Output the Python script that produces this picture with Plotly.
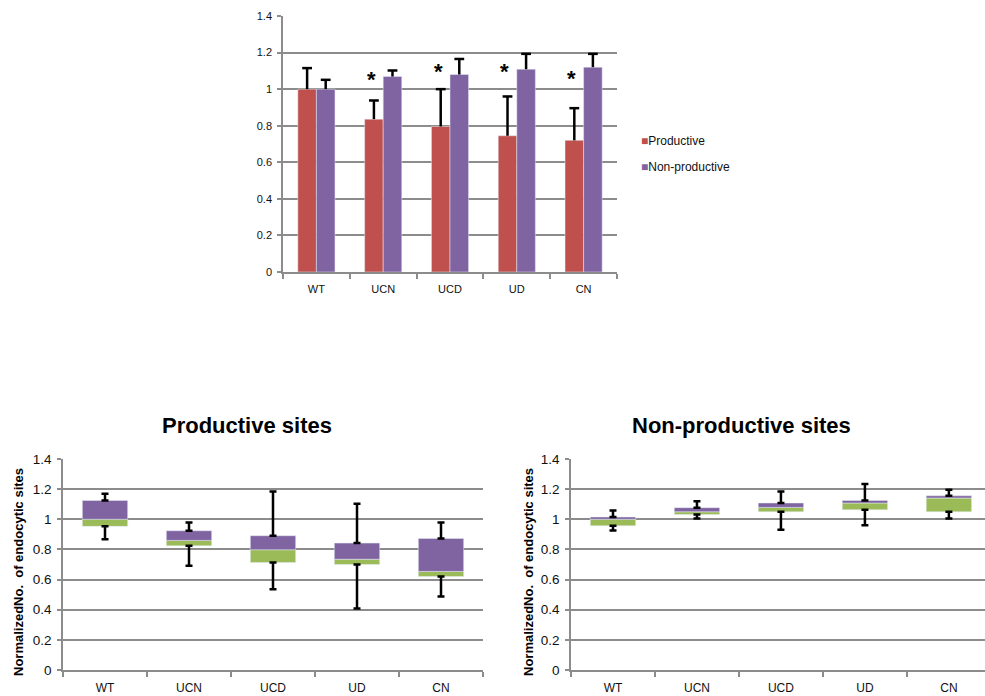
import plotly.graph_objects as go

categories = ["WT", "UCN", "UCD", "UD", "CN"]

# Top chart: normalized mean values with upward error bars
prod_mean = [1.0, 0.836, 0.796, 0.745, 0.72]
prod_err = [0.115, 0.102, 0.204, 0.215, 0.176]
nonprod_mean = [1.0, 1.069, 1.08, 1.109, 1.12]
nonprod_err = [0.051, 0.033, 0.085, 0.084, 0.073]
star_cats = ["UCN", "UCD", "UD", "CN"]
star_y = [1.073, 1.12, 1.12, 1.08]
series_names = ["Productive", "Non-productive"]

# Bottom charts: box low / median / high and whisker min / max
prod_low = [0.953, 0.824, 0.713, 0.70, 0.62]
prod_med = [1.0, 0.86, 0.798, 0.735, 0.654]
prod_high = [1.125, 0.924, 0.891, 0.842, 0.873]
prod_min = [0.868, 0.691, 0.536, 0.408, 0.487]
prod_max = [1.17, 0.979, 1.185, 1.103, 0.979]

np_low = [0.957, 1.032, 1.05, 1.063, 1.05]
np_med = [1.0, 1.05, 1.079, 1.108, 1.141]
np_high = [1.015, 1.077, 1.108, 1.125, 1.156]
np_min = [0.926, 1.006, 0.930, 0.961, 1.006]
np_max = [1.059, 1.119, 1.185, 1.234, 1.196]

RED = "#C0504D"
PURPLE = "#8064A2"
GREEN = "#9BBB59"
GRID = "#8c8c8c"
FONT = "Liberation Sans"
BW = 0.278  # bar width (category units) in the top chart

W, H = 985, 696

def px_x(a, b):
    return [a / W, min(b / W, 1.0)]

def px_y(top, bottom):
    return [1 - bottom / H, 1 - top / H]

fig = go.Figure()

# ---- top chart ----
for name, mean, err, col, off in [(series_names[0], prod_mean, prod_err, RED, -BW),
                                  (series_names[1], nonprod_mean, nonprod_err, PURPLE, 0)]:
    fig.add_trace(go.Bar(
        x=categories, y=mean, name=name, marker_color=col,
        width=BW, offset=off, xaxis="x", yaxis="y", showlegend=False,
        error_y=dict(type="data", symmetric=False, array=err, arrayminus=[0] * 5,
                     color="black", thickness=2.5, width=0)))
    # caps on top of the error bars (numeric overlay axis for group offset)
    fig.add_trace(go.Scatter(
        x=[i + off + BW / 2 for i in range(len(categories))],
        y=[m + e for m, e in zip(mean, err)],
        mode="markers", marker=dict(symbol="line-ew", size=7, color="black",
                                    line=dict(color="black", width=2.5)),
        showlegend=False, hoverinfo="skip", xaxis="x4", yaxis="y"))

# ---- bottom charts ----
def add_box(low, med, high, mn, mx, xa, ya):
    fig.add_trace(go.Bar(
        x=categories, y=[m - l for m, l in zip(med, low)], base=low,
        marker_color=GREEN, width=0.54, offset=-0.27, showlegend=False,
        xaxis=xa, yaxis=ya))
    fig.add_trace(go.Bar(
        x=categories, y=[h - m for h, m in zip(high, med)], base=med,
        marker_color=PURPLE, width=0.54, offset=-0.27, showlegend=False,
        xaxis=xa, yaxis=ya))
    fig.add_trace(go.Scatter(
        x=categories, y=high, mode="markers", marker=dict(size=1, opacity=0),
        error_y=dict(type="data", symmetric=False,
                     array=[a - b for a, b in zip(mx, high)], arrayminus=[0] * 5,
                     color="black", thickness=2.5, width=3.5),
        showlegend=False, hoverinfo="skip", xaxis=xa, yaxis=ya))
    fig.add_trace(go.Scatter(
        x=categories, y=low, mode="markers", marker=dict(size=1, opacity=0),
        error_y=dict(type="data", symmetric=False,
                     array=[0] * 5, arrayminus=[a - b for a, b in zip(low, mn)],
                     color="black", thickness=2.5, width=3.5),
        showlegend=False, hoverinfo="skip", xaxis=xa, yaxis=ya))

add_box(prod_low, prod_med, prod_high, prod_min, prod_max, "x2", "y2")
add_box(np_low, np_med, np_high, np_min, np_max, "x3", "y3")

def xaxis_cfg(domain, anchor, size, rng=(-0.5, 4.5)):
    return dict(domain=domain, anchor=anchor, type="category", range=list(rng),
                showline=True, linecolor=GRID, linewidth=1.5, automargin=False,
                ticks="outside", tickson="boundaries", ticklen=5, tickcolor=GRID, tickwidth=1.5,
                showgrid=False, tickfont=dict(family=FONT, size=size, color="#111"),
                ticklabelstandoff=6, zeroline=False, fixedrange=True)

def yaxis_cfg(domain, anchor, size):
    return dict(domain=domain, anchor=anchor, range=[0, 1.4], dtick=0.2,
                showline=True, linecolor=GRID, linewidth=1.5, automargin=False,
                ticks="outside", ticklen=4, tickcolor=GRID, tickwidth=1.5,
                showgrid=True, gridcolor=GRID, gridwidth=1.5, zeroline=False,
                tickfont=dict(family=FONT, size=size, color="#111"),
                ticklabelstandoff=3, fixedrange=True)

top_xdom = px_x(283, 617)
fig.update_layout(
    width=W, height=H, autosize=False,
    margin=dict(l=0, r=0, t=0, b=0, pad=0, autoexpand=False),
    paper_bgcolor="white", plot_bgcolor="white",
    barmode="overlay",
    showlegend=False,
    xaxis=xaxis_cfg(top_xdom, "y", 11),
    yaxis=yaxis_cfg(px_y(16, 272), "x", 11),
    xaxis4=dict(domain=top_xdom, anchor="y", overlaying="x", range=[-0.5, 4.5],
                visible=False, fixedrange=True, automargin=False),
    xaxis2=xaxis_cfg(px_x(63, 483), "y2", 12),
    yaxis2=yaxis_cfg(px_y(459, 670), "x2", 13.5),
    xaxis3=xaxis_cfg(px_x(571, 985), "y3", 12, rng=(-0.5, 4.43)),
    yaxis3=yaxis_cfg(px_y(459, 670), "x3", 13.5),
)

anns = []
for c, y in zip(star_cats, star_y):
    anns.append(dict(x=c, y=y, xref="x", yref="y", text="<b>*</b>", showarrow=False,
                     xshift=-12, yshift=-4, font=dict(family=FONT, size=22, color="black")))
# legend (square swatch + label)
for i, (name, col) in enumerate(zip(series_names, [RED, PURPLE])):
    anns.append(dict(x=639 / W, y=1 - (141 + 26 * i) / H, xref="paper", yref="paper",
                     xanchor="left", yanchor="middle", showarrow=False,
                     text=f"<span style='color:{col}'>■</span>{name}",
                     font=dict(family=FONT, size=12, color="#111")))
anns.append(dict(x=247 / W, y=1 - 425 / H, xref="paper", yref="paper",
                 xanchor="center", yanchor="middle",
                 text="<b>Productive sites</b>", showarrow=False,
                 font=dict(family=FONT, size=22, color="black")))
anns.append(dict(x=741 / W, y=1 - 425 / H, xref="paper", yref="paper",
                 xanchor="center", yanchor="middle",
                 text="<b>Non-productive sites</b>", showarrow=False,
                 font=dict(family=FONT, size=22, color="black")))
for xp in (18, 528):
    anns.append(dict(x=xp / W, y=1 - 572 / H, xref="paper", yref="paper",
                     xanchor="center", yanchor="middle",
                     text="<b>NormalizedNo.  of endocytic sites</b>", showarrow=False,
                     textangle=-90, font=dict(family=FONT, size=13, color="black")))
fig.update_layout(annotations=anns)

fig.write_html("out.html",
               config={"responsive": False, "displayModeBar": False},
               post_script="document.body.style.margin='0';document.body.style.overflow='hidden';")
